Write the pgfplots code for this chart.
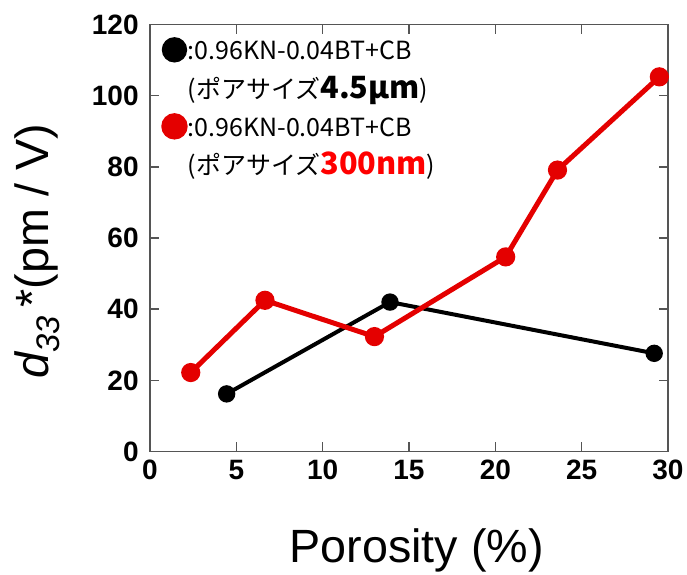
\documentclass[border=0pt]{standalone}
\usepackage{fontspec}
\setmainfont{Liberation Sans}
\newfontfamily\jp{Noto Sans CJK JP}
\usepackage{pgfplots}
\pgfplotsset{compat=1.18}
\definecolor{lred}{RGB}{228,0,0}
\definecolor{axgray}{RGB}{85,85,85}

\begin{document}
\begin{tikzpicture}
\begin{axis}[at={(0,0)},anchor=south west,scale only axis,
 width=388.5pt,height=320.25pt,
 xmin=0,xmax=30,ymin=0,ymax=120,
 xtick={0,5,...,30},ytick={0,20,...,120},
 tick align=inside,major tick length=7pt,
 tick style={axgray,line width=1.1pt},
 axis line style={axgray,line width=1.1pt},
 /pgf/number format/assume math mode=true,
 tick label style={font=\fontsize{21}{21}\selectfont\bfseries},
 xticklabel style={yshift=-3pt},yticklabel style={xshift=-5pt},
 xlabel={Porosity (\%)},
 ylabel={{\itshape d\textsubscript{33}}\,*(pm / V)},
 label style={font=\fontsize{35}{35}\selectfont},
 xlabel style={at={(axis description cs:0.515,-0.231)},anchor=center},
 ylabel style={at={(axis description cs:-0.218,0.47)},anchor=center},
 legend style={draw=none,fill=none,inner sep=0pt,
   at={(axis cs:0.64,117.8)},anchor=north west,
   font=\jp\fontsize{18.75}{29}\selectfont,row sep=35pt,
   nodes={inner sep=0pt}},
 legend cell align=left,
 /tikz/every even column/.append style={column sep=3pt},
 legend image code/.code={\fill[#1] (0pt,-2pt) circle (8pt);},
]
\addplot[black,line width=3pt,mark=*,mark size=5pt] coordinates {
 (4.44,16.2) (13.9,42.0) (29.2,27.6)};
\addlegendentry{\begin{tabular}[t]{@{}l@{}}:0.96KN-0.04BT+CB\\[0pt](ポアサイズ{\bfseries\fontsize{23}{23}\selectfont 4.5μm})\end{tabular}}
\addplot[lred,line width=3.75pt,mark=*,mark size=5.3pt] coordinates {
 (2.36,22.2) (6.66,42.5) (13.0,32.3) (20.6,54.7) (23.6,79.1) (29.5,105.3)};
\addlegendentry{\begin{tabular}[t]{@{}l@{}}:0.96KN-0.04BT+CB\\[0pt](ポアサイズ{\bfseries\fontsize{23}{23}\selectfont\color{red}300nm})\end{tabular}}
\end{axis}
\pgfresetboundingbox
\useasboundingbox (-112.5pt,-92.6pt) rectangle (402.75pt,338.65pt);
\end{tikzpicture}
\end{document}
